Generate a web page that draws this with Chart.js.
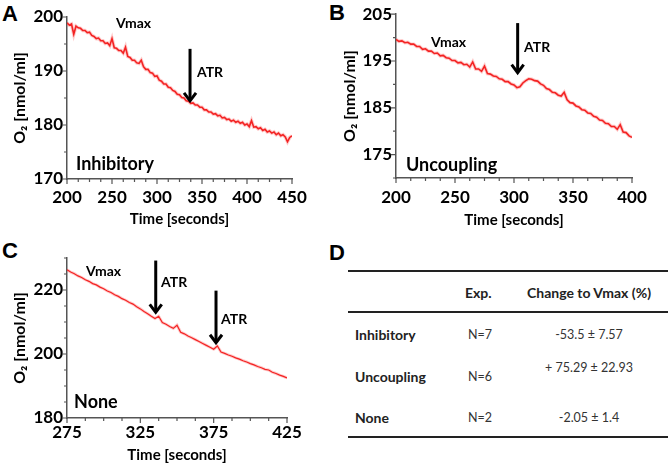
<!DOCTYPE html>
<html>
<head>
<meta charset="utf-8">
<script src="https://cdn.jsdelivr.net/npm/chart.js@4.4.1/dist/chart.umd.min.js"></script>
<style>
  body { margin: 0; width: 671px; height: 469px; overflow: hidden; background: #fff; font-family: Lato, sans-serif; }
  .panel { position: absolute; }
  .letter { position: absolute; font: bold 22px "Liberation Sans", Arial, sans-serif; line-height: 22px; color: #000; }
  .rule { position: absolute; left: 348px; width: 320px; border-top: 2px solid #222; }
  .cell { position: absolute; height: 16px; line-height: 16px; white-space: nowrap; color: #333; font-size: 12.5px; }
  .b { font-weight: bold; color: #222; font-size: 14px; }
</style>
</head>
<body>

<div class="letter" style="left:2px;top:3px">A</div>
<div class="letter" style="left:329px;top:2px">B</div>
<div class="letter" style="left:2px;top:240px">C</div>
<div class="letter" style="left:329px;top:242px">D</div>

<div class="panel" style="left:0;top:0;width:330px;height:235px"><canvas id="chartA"></canvas></div>
<div class="panel" style="left:330px;top:0;width:341px;height:235px"><canvas id="chartB"></canvas></div>
<div class="panel" style="left:0;top:240px;width:330px;height:229px"><canvas id="chartC"></canvas></div>
<div id="table"></div>

<script>
// sampling: one reading every 2.5 s
const step = 2.5;

// A - Inhibitory (200..450 s)
const startA = 200;
const valuesA = [
  198.9, 198.5, 198.7, 196.8, 198.3, 198.0, 197.9, 197.5, 197.5, 197.1,
  197.2, 196.6, 196.4, 196.0, 196.1, 195.6, 195.6, 195.1, 195.2, 194.7,
  196.0, 194.3, 194.2, 193.8, 193.8, 193.3, 194.4, 192.7, 192.5, 192.0,
  192.0, 191.5, 191.4, 192.0, 190.8, 190.3, 190.3, 189.7, 189.6, 189.0,
  189.1, 188.3, 188.1, 187.6, 187.6, 187.0, 186.9, 186.4, 186.2, 185.7,
  185.6, 185.1, 185.0, 184.5, 184.4, 184.0, 184.1, 183.7, 183.7, 183.3,
  183.3, 182.8, 182.8, 182.4, 182.4, 182.0, 182.1, 181.7, 181.8, 181.3,
  181.4, 181.0, 181.1, 180.7, 180.9, 180.5, 180.7, 180.3, 180.5, 180.0,
  180.2, 179.7, 180.8, 179.6, 179.7, 179.3, 179.5, 179.0, 179.2, 178.7,
  178.9, 178.5, 178.7, 178.2, 178.5, 178.0, 178.2, 177.8, 176.9, 177.7,
  178.0
];
const xTicksA = [200, 250, 300, 350, 400, 450];
const yTicksA = [170, 180, 190, 200];

// B - Uncoupling (200..400 s)
const startB = 200;
const valuesB = [
  199.6, 199.2, 199.3, 198.9, 199.0, 198.6, 198.6, 198.1, 198.1, 197.5,
  197.6, 197.1, 197.1, 196.6, 196.7, 196.1, 196.2, 195.7, 195.6, 195.1,
  195.1, 194.6, 194.7, 194.2, 194.3, 193.7, 194.8, 193.3, 193.3, 192.8,
  193.9, 192.3, 192.2, 191.8, 191.7, 191.2, 191.1, 190.6, 190.6, 190.1,
  189.9, 189.3, 189.5, 190.3, 190.8, 191.2, 191.1, 190.8, 190.7, 190.1,
  189.8, 189.1, 188.9, 188.3, 188.2, 187.7, 187.5, 188.3, 186.7, 186.1,
  186.0, 185.4, 185.2, 184.6, 184.5, 183.9, 183.8, 183.2, 183.0, 182.4,
  182.3, 181.7, 181.6, 181.0, 181.0, 180.4, 181.4, 179.8, 179.7, 179.0,
  178.7
];
const xTicksB = [200, 250, 300, 350, 400];
const yTicksB = [175, 185, 195, 205];

// C - None (275..425 s)
const startC = 275;
const valuesC = [
  226.3, 225.6, 225.1, 224.4, 223.9, 223.2, 222.7, 222.0, 221.6, 220.9,
  220.4, 219.7, 219.2, 218.5, 218.0, 217.3, 216.8, 216.1, 215.6, 214.8,
  214.1, 213.3, 212.6, 211.8, 211.1, 211.8, 209.8, 209.3, 208.6, 208.0,
  209.0, 206.8, 206.3, 205.6, 205.1, 204.5, 203.9, 203.3, 202.7, 202.1,
  201.5, 202.5, 200.6, 200.2, 199.7, 199.3, 198.8, 198.4, 197.9, 197.5,
  197.0, 196.6, 196.1, 195.7, 195.2, 195.0, 194.3, 193.9, 193.4, 193.0,
  192.5
];
const xTicksC = [275, 325, 375, 425];
const yTicksC = [180, 200, 220];

// D - table
const tableHead = ['Exp.', 'Change to Vmax (%)'];
const rowNames = ['Inhibitory', 'Uncoupling', 'None'];
const rowN = ['N=7', 'N=6', 'N=2'];
const rowChange = ['-53.5 \u00b1 7.57', '+ 75.29 \u00b1 22.93', '-2.05 \u00b1 1.4'];

const tickFont = { family: 'Lato', size: 17, weight: 'bold' };

// small tick marks, majors longer than minors
function tickMarks(xMajor, xMinor, yMajor, yMinor) {
  return {
    id: 'tickMarks',
    afterDraw(chart) {
      const { ctx, chartArea: a, scales: { x, y } } = chart;
      ctx.save();
      ctx.strokeStyle = '#555';
      ctx.lineWidth = 1.2;
      ctx.beginPath();
      for (let v = x.min; v <= x.max + 0.001; v += xMinor) {
        const p = x.getPixelForValue(v);
        ctx.moveTo(p, a.bottom);
        ctx.lineTo(p, a.bottom + (xMajor.includes(v) ? 5 : 3));
      }
      for (let v = y.min; v <= y.max + 0.001; v += yMinor) {
        const p = y.getPixelForValue(v);
        ctx.moveTo(a.left, p);
        ctx.lineTo(a.left - (yMajor.includes(v) ? 5 : 3), p);
      }
      ctx.stroke();
      ctx.restore();
    }
  };
}

// arrows + text placed in data units
function notes(items) {
  return {
    id: 'notes',
    afterDatasetsDraw(chart) {
      const { ctx, scales: { x, y } } = chart;
      ctx.save();
      items.forEach(n => {
        const px = x.getPixelForValue(n.x);
        if (n.arrow) {
          const top = y.getPixelForValue(n.from);
          const tip = y.getPixelForValue(n.to);
          ctx.strokeStyle = '#000';
          ctx.lineWidth = 3;
          ctx.beginPath();
          ctx.moveTo(px, top);
          ctx.lineTo(px, tip - 2);
          ctx.stroke();
          ctx.beginPath();
          ctx.moveTo(px - 6, tip - 9);
          ctx.lineTo(px, tip - 1);
          ctx.lineTo(px + 6, tip - 9);
          ctx.stroke();
        } else {
          ctx.font = 'bold ' + (n.size || 14) + 'px Lato';
          ctx.fillStyle = '#000';
          ctx.textAlign = n.align || 'left';
          ctx.textBaseline = 'middle';
          ctx.fillText(n.text, px, y.getPixelForValue(n.y));
        }
      });
      ctx.restore();
    }
  };
}

function makeChart(id, o) {
  const points = o.values.map((v, i) => ({ x: o.start + i * step, y: v }));
  new Chart(document.getElementById(id), {
    type: 'line',
    data: {
      datasets: [
        { data: points, borderColor: 'rgba(255,80,80,0.3)', borderWidth: o.halo, pointRadius: 0 },
        { data: points, borderColor: '#ee1010', borderWidth: o.core, pointRadius: 0, borderJoinStyle: 'miter' }
      ]
    },
    options: {
      responsive: true,
      maintainAspectRatio: false,
      animation: false,
      layout: { padding: o.pad },
      plugins: { legend: { display: false }, tooltip: { enabled: false } },
      scales: {
        x: {
          type: 'linear', min: o.xMin, max: o.xMax,
          afterBuildTicks: s => { s.ticks = o.xTicks.map(v => ({ value: v })); },
          afterFit: s => { s.height = o.xh; },
          ticks: { font: tickFont, color: '#000', padding: o.xPad, maxRotation: 0, autoSkip: false },
          grid: { display: false, drawTicks: false },
          border: { color: '#555', width: 1.5 },
          title: { display: true, text: 'Time [seconds]', color: '#000',
                   font: { family: 'Lato', size: 15, weight: 'bold' }, padding: { top: 0, bottom: o.xtPad } }
        },
        y: {
          min: o.yMin, max: o.yMax,
          afterBuildTicks: s => { s.ticks = o.yTicks.map(v => ({ value: v })); },
          afterFit: s => { s.width = o.yw; },
          ticks: { font: tickFont, color: '#000', padding: 4, autoSkip: false },
          grid: { display: false, drawTicks: false },
          border: { color: '#555', width: 1.5 },
          title: { display: true, text: 'O\u2082 [nmol/ml]', color: '#000',
                   font: { family: 'Lato', size: 16, weight: 'bold' }, padding: { top: 10, bottom: 0 } }
        }
      }
    },
    plugins: [tickMarks(o.xTicks, 12.5, o.yTicks, 5), notes(o.notes)]
  });
}

makeChart('chartA', {
  values: valuesA, start: startA, xMin: 200, xMax: 450, yMin: 170, yMax: 200,
  xTicks: xTicksA, yTicks: yTicksA, halo: 3.5, core: 1.6,
  pad: { top: 17, right: 38, bottom: 0, left: 0 }, xh: 56, yw: 67, xPad: 8, xtPad: 7,
  notes: [
    { text: 'Vmax', x: 274, y: 198.8, align: 'center' },
    { text: 'ATR', x: 344.4, y: 189.7 },
    { arrow: true, x: 336.7, from: 194.1, to: 184.3 },
    { text: 'Inhibitory', x: 210, y: 172.8, size: 18 }
  ]
});

makeChart('chartB', {
  values: valuesB, start: startB, xMin: 200, xMax: 400, yMin: 170, yMax: 205,
  xTicks: xTicksB, yTicks: yTicksB, halo: 3.5, core: 1.6,
  pad: { top: 11, right: 39, bottom: 0, left: 0 }, xh: 57, yw: 66, xPad: 9, xtPad: 6,
  notes: [
    { text: 'Vmax', x: 244.5, y: 198.9, align: 'center' },
    { text: 'ATR', x: 308.5, y: 197.9 },
    { arrow: true, x: 303.1, from: 203.1, to: 192.3 },
    { text: 'Uncoupling', x: 208.5, y: 172.8, size: 18 }
  ]
});

makeChart('chartC', {
  values: valuesC, start: startC, xMin: 275, xMax: 425, yMin: 180, yMax: 230,
  xTicks: xTicksC, yTicks: yTicksC, halo: 3, core: 1.2,
  pad: { top: 18, right: 43, bottom: 0, left: 0 }, xh: 51, yw: 67, xPad: 4, xtPad: 5,
  notes: [
    { text: 'Vmax', x: 299.9, y: 225.7, align: 'center' },
    { text: 'ATR', x: 339.1, y: 222.5 },
    { arrow: true, x: 335.5, from: 229.2, to: 212.7 },
    { text: 'ATR', x: 380, y: 210.7 },
    { arrow: true, x: 376.6, from: 219.8, to: 203.2 },
    { text: 'None', x: 279.8, y: 185.0, size: 18 }
  ]
});

// table D
const table = document.getElementById('table');
function cell(text, style, cls) {
  const d = document.createElement('div');
  d.className = 'cell ' + (cls || '');
  d.style.cssText = style;
  d.textContent = text;
  table.appendChild(d);
}
[270, 311, 436].forEach(t => {
  const r = document.createElement('div');
  r.className = 'rule';
  r.style.top = t + 'px';
  table.appendChild(r);
});
cell(tableHead[0], 'left:465px;top:285px', 'b');
cell(tableHead[1], 'left:514px;top:285px;width:150px;text-align:center', 'b');
const rowY = [335, 377, 418];
const changeY = [335, 368, 418];
rowNames.forEach((name, i) => {
  cell(name, 'left:355px;top:' + (rowY[i] - 8) + 'px', 'b');
  cell(rowN[i], 'left:468px;top:' + (rowY[i] - 8) + 'px');
  cell(rowChange[i], 'left:514px;top:' + (changeY[i] - 8) + 'px;width:150px;text-align:center');
});
</script>
</body>
</html>
